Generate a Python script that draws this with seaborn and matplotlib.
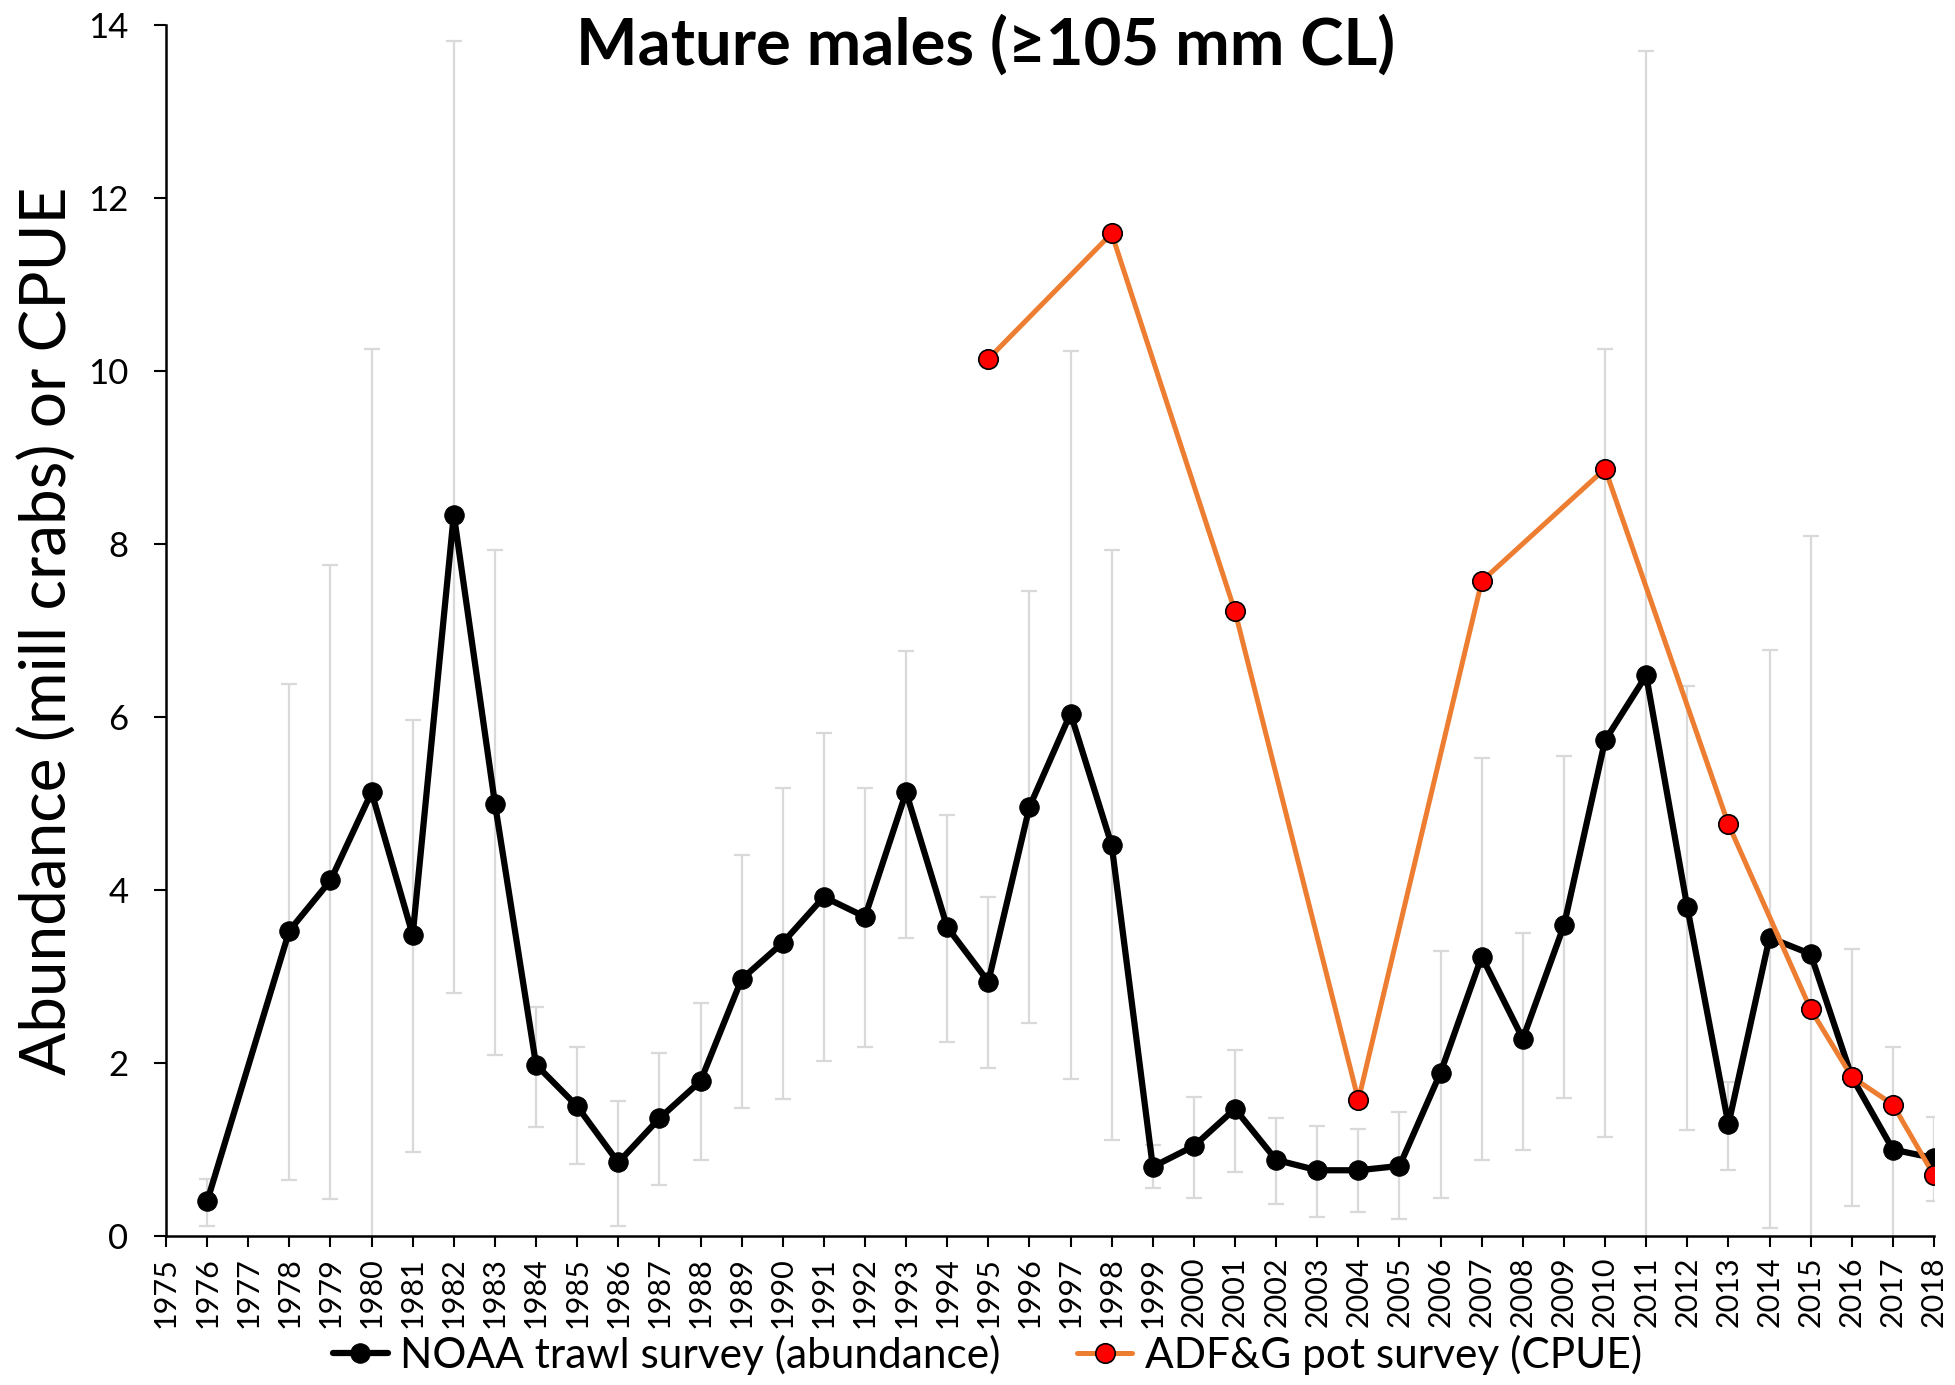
import matplotlib
matplotlib.use("Agg")
import matplotlib.pyplot as plt
import seaborn as sns
import pandas as pd
import numpy as np

# NOAA trawl survey abundance (mill crabs) with error bar limits
noaa_years = [1976, 1978, 1979, 1980, 1981, 1982, 1983, 1984, 1985, 1986, 1987,
              1988, 1989, 1990, 1991, 1992, 1993, 1994, 1995, 1996, 1997, 1998,
              1999, 2000, 2001, 2002, 2003, 2004, 2005, 2006, 2007, 2008, 2009,
              2010, 2011, 2012, 2013, 2014, 2015, 2016, 2017, 2018]
noaa_abund = [0.40, 3.53, 4.11, 5.13, 3.48, 8.34, 5.00, 1.98, 1.50, 0.85, 1.36,
              1.79, 2.97, 3.39, 3.92, 3.69, 5.13, 3.57, 2.94, 4.96, 6.04, 4.52,
              0.80, 1.04, 1.47, 0.88, 0.76, 0.76, 0.81, 1.89, 3.23, 2.28, 3.59,
              5.73, 6.48, 3.80, 1.29, 3.45, 3.26, 1.84, 1.00, 0.90]
noaa_low = [0.12, 0.65, 0.43, -0.3, 0.97, 2.81, 2.09, 1.26, 0.83, 0.11, 0.59,
            0.88, 1.48, 1.58, 2.02, 2.18, 3.44, 2.24, 1.94, 2.46, 1.82, 1.11,
            0.55, 0.44, 0.74, 0.37, 0.22, 0.28, 0.20, 0.44, 0.88, 1.00, 1.59,
            1.15, -0.3, 1.22, 0.76, 0.09, -0.3, 0.35, -0.3, 0.41]
noaa_high = [0.66, 6.38, 7.76, 10.25, 5.97, 13.82, 7.93, 2.65, 2.18, 1.56, 2.12,
             2.69, 4.41, 5.18, 5.81, 5.18, 6.76, 4.87, 3.92, 7.46, 10.23, 7.93,
             1.05, 1.61, 2.15, 1.36, 1.27, 1.24, 1.43, 3.30, 5.53, 3.50, 5.55,
             10.26, 13.70, 6.36, 1.78, 6.77, 8.09, 3.32, 2.19, 1.38]

# ADF&G pot survey CPUE
adfg_years = [1995, 1998, 2001, 2004, 2007, 2010, 2013, 2015, 2016, 2017, 2018]
adfg_cpue = [10.14, 11.59, 7.22, 1.57, 7.57, 8.87, 4.76, 2.62, 1.84, 1.52, 0.70]

noaa = pd.DataFrame({"year": noaa_years, "value": noaa_abund})
adfg = pd.DataFrame({"year": adfg_years, "value": adfg_cpue})

sns.set_style("ticks")
plt.rcParams["font.family"] = ["Lato", "DejaVu Sans"]
plt.rcParams.update({"text.color": "black", "axes.labelcolor": "black",
                     "xtick.color": "black", "ytick.color": "black",
                     "axes.edgecolor": "black"})

fig = plt.figure(figsize=(19.55, 13.85), dpi=100)
ax = fig.add_axes([166 / 1955, 1 - 1236 / 1385, 1768 / 1955, 1211 / 1385])

# error bars (behind the lines)
abund = np.array(noaa_abund)
yerr = [abund - np.array(noaa_low), np.array(noaa_high) - abund]
ax.errorbar(noaa_years, noaa_abund, yerr=yerr, fmt="none", ecolor="#D9D9D9",
            elinewidth=1.6, capsize=6, capthick=1.6, zorder=1)

sns.lineplot(data=noaa, x="year", y="value", ax=ax, color="black", lw=4.5,
             marker="o", markersize=14, markerfacecolor="black",
             markeredgecolor="black", label="NOAA trawl survey (abundance)",
             zorder=3)
sns.lineplot(data=adfg, x="year", y="value", ax=ax, color="#ED7D31", lw=3.6,
             marker="o", markersize=14, markerfacecolor="#FF0000",
             markeredgecolor="black", markeredgewidth=1.2,
             label="ADF&G pot survey (CPUE)", zorder=4)

ax.set_xlim(1975, 2018)
ax.set_ylim(0, 14)
ax.set_xticks(range(1975, 2019))
ax.set_xticklabels([str(y) for y in range(1975, 2019)], rotation=90)
ax.set_yticks(range(0, 15, 2))
ax.tick_params(axis="x", labelsize=22, length=8, width=1.5, pad=7)
ax.tick_params(axis="y", labelsize=25, length=9, width=1.5, pad=18)
for s in ["left", "bottom"]:
    ax.spines[s].set_linewidth(1.8)
sns.despine(ax=ax)

ax.set_xlabel("")
ax.set_ylabel("Abundance (mill crabs) or CPUE", fontsize=46)
ax.yaxis.set_label_coords(-0.05, 0.5)

fig.text(0.504, 1 - 65 / 1385, "Mature males (\u2265105 mm CL)", ha="center",
         va="baseline", fontsize=47, fontweight="bold")

handles, labels = ax.get_legend_handles_labels()
ax.get_legend().remove()
fig.legend(handles, labels, loc="center", bbox_to_anchor=(0.505, 0.022),
           ncol=2, frameon=False, fontsize=30.5, handlelength=1.3,
           handletextpad=0.3, columnspacing=1.8, borderpad=0)

fig.savefig("out.png", dpi=100)
